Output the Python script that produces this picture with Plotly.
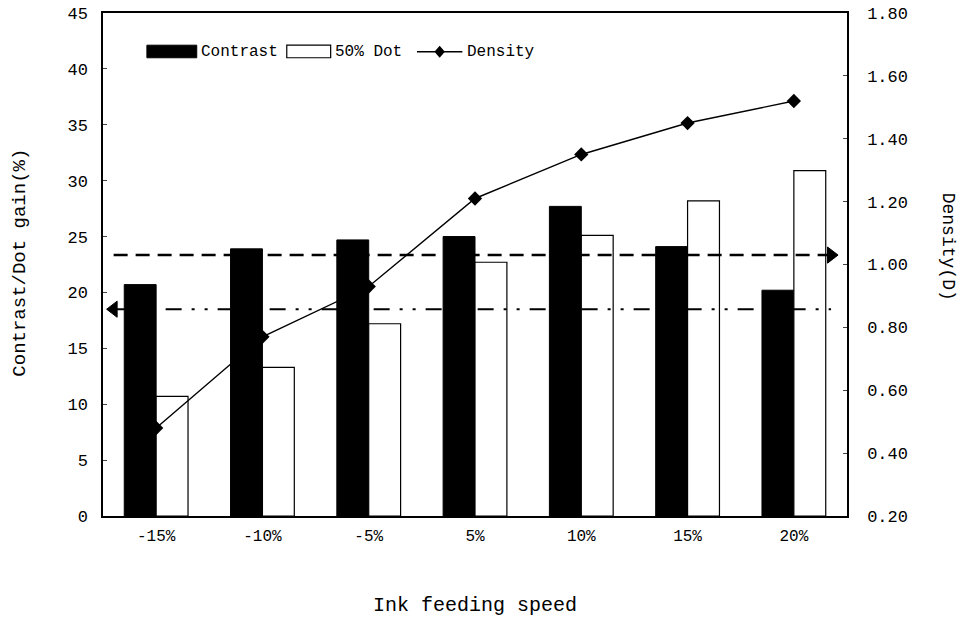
import plotly.graph_objects as go

categories = ["-15%", "-10%", "-5%", "5%", "10%", "15%", "20%"]
contrast = [20.7, 23.9, 24.7, 25.0, 27.7, 24.1, 20.2]
dot50 = [10.7, 13.3, 17.2, 22.7, 25.1, 28.2, 30.9]
density = [0.48, 0.77, 0.93, 1.21, 1.35, 1.45, 1.52]
density_ref = 1.03      # dashed reference line (right axis)
contrast_ref = 18.5     # dash-dot reference line (left axis)

FONT = "Liberation Mono"
idx = list(range(len(categories)))
line_x = [-0.4, 6.35]

fig = go.Figure()
fig.add_trace(go.Bar(x=idx, y=contrast, name="Contrast", marker=dict(color="black", line=dict(color="black", width=1))))
fig.add_trace(go.Bar(x=idx, y=dot50, name="50% Dot", marker=dict(color="white", line=dict(color="black", width=1.2))))
fig.add_trace(go.Scatter(x=idx, y=density, name="Density", yaxis="y2", mode="lines+markers",
                         line=dict(color="black", width=1.4),
                         marker=dict(symbol="diamond", size=11, color="black", line=dict(width=0))))
# reference lines
fig.add_trace(go.Scatter(x=line_x, y=[density_ref, density_ref], yaxis="y2", mode="lines",
                         line=dict(color="black", width=2.5, dash="14px,8px"),
                         showlegend=False, hoverinfo="skip"))
fig.add_trace(go.Scatter(x=[line_x[1]], y=[density_ref], yaxis="y2", mode="markers",
                         marker=dict(symbol="triangle-right", size=14, color="#000000", opacity=1,
                                     line=dict(color="#000000", width=1)),
                         showlegend=False, hoverinfo="skip"))
fig.add_trace(go.Scatter(x=line_x, y=[contrast_ref, contrast_ref], mode="lines",
                         line=dict(color="black", width=2, dash="16px,10px,3px,10px,3px,10px"),
                         showlegend=False, hoverinfo="skip"))
fig.add_trace(go.Scatter(x=[line_x[0]], y=[contrast_ref], mode="markers",
                         marker=dict(symbol="triangle-left", size=14, color="#000000", opacity=1,
                                     line=dict(color="#000000", width=1)),
                         showlegend=False, hoverinfo="skip"))

axis_common = dict(showgrid=False, zeroline=False, showline=True, linecolor="black", linewidth=1.5,
                   automargin=False)

# manual legend (wide swatches as in the reference)
shapes = [
    dict(type="rect", xref="paper", yref="paper", x0=0.059, x1=0.126, y0=0.911, y1=0.936,
         fillcolor="black", line=dict(color="black", width=1)),
    dict(type="rect", xref="paper", yref="paper", x0=0.247, x1=0.306, y0=0.911, y1=0.936,
         fillcolor="white", line=dict(color="black", width=1.2)),
    dict(type="line", xref="paper", yref="paper", x0=0.422, x1=0.483, y0=0.923, y1=0.923,
         line=dict(color="black", width=1.4)),
    dict(type="path", xref="paper", yref="paper",
         path="M 0.4455 0.923 L 0.4525 0.935 L 0.4595 0.923 L 0.4525 0.911 Z",
         fillcolor="black", line=dict(color="black", width=0)),
]
legend_text = [("Contrast", 0.129), ("50% Dot", 0.309), ("Density", 0.487)]
annotations = [dict(text=t, xref="paper", yref="paper", x=xp, y=0.923, xanchor="left", yanchor="middle",
                    showarrow=False, font=dict(size=16, family=FONT)) for t, xp in legend_text]
annotations += [
    dict(text="Contrast/Dot gain(%)", xref="paper", yref="paper", x=-0.112, y=0.503, textangle=-90,
         showarrow=False, font=dict(size=19, family=FONT), xanchor="center", yanchor="middle"),
    dict(text="Density(D)", xref="paper", yref="paper", x=1.136, y=0.535, textangle=90,
         showarrow=False, font=dict(size=18, family=FONT), xanchor="center", yanchor="middle"),
    dict(text="Ink feeding speed", xref="paper", yref="paper", x=0.5, y=-0.177,
         showarrow=False, font=dict(size=20, family=FONT), xanchor="center", yanchor="middle"),
]

fig.update_layout(
    width=963, height=623,
    margin=dict(l=103, r=116, t=13, b=107),
    plot_bgcolor="white", paper_bgcolor="white",
    font=dict(family=FONT, size=16, color="black"),
    barmode="group", bargap=0.4, bargroupgap=0,
    showlegend=False,
    xaxis=dict(range=[-0.5, 6.5], tickvals=idx, ticktext=categories, mirror=True, ticks="",
               tickfont=dict(size=16, family=FONT), ticklabelstandoff=4, **axis_common),
    yaxis=dict(range=[0, 45], dtick=5, ticks="inside", ticklen=4, ticklabelstandoff=10,
               tickfont=dict(size=17, family=FONT), **axis_common),
    yaxis2=dict(range=[0.2, 1.8], dtick=0.2, tickformat=".2f", overlaying="y", side="right",
                ticks="inside", ticklen=4, ticklabelstandoff=15,
                tickfont=dict(size=17, family=FONT), **axis_common),
    shapes=shapes,
    annotations=annotations,
)

# remove the page's default body margin so the figure sits at the window's top-left corner
fig.write_html("out.html", config={"displayModeBar": False},
               post_script="document.body.style.margin='0';")
